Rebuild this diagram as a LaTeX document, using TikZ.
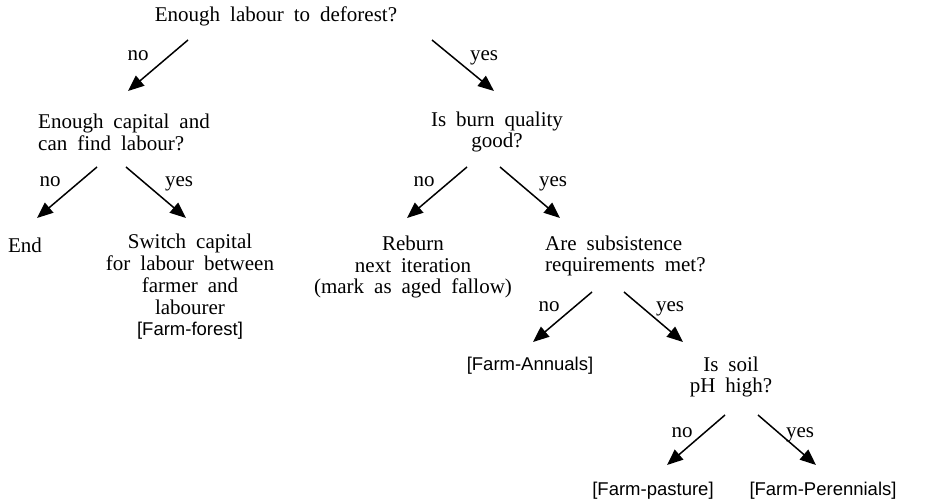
\documentclass[tikz,border=0pt]{standalone}
\usepackage{fontspec}
\setmainfont{Liberation Serif}[WordSpace=1.9]
\setsansfont{Liberation Sans}
\usetikzlibrary{arrows.meta}
\tikzset{
  txt/.style={inner sep=0pt, align=center, font=\fontsize{21}{21.8}\selectfont},
  ltxt/.style={inner sep=0pt, align=left, font=\fontsize{21}{21.8}\selectfont},
  stxt/.style={inner sep=0pt, align=center, font=\sffamily\fontsize{18.5}{21}\selectfont},
  lbl/.style={inner sep=0pt, anchor=base, font=\fontsize{21}{21.8}\selectfont},
  arr/.style={line width=1.5pt, -{Triangle[length=16pt,width=13pt]}}
}
\begin{document}
\begin{tikzpicture}[x=1pt,y=-1pt]
\useasboundingbox (0,0) rectangle (926,502);
% nodes
\node[txt] (top) at (276,16) {Enough labour to deforest?};
\node[ltxt, anchor=west] (cap) at (38,132) {Enough capital and\\can find labour?};
\node[txt] (burn) at (497,132) {Is burn quality\\good?};
\node[txt] (end) at (25,245) {End};
\node[txt] (switch) at (190,287) {Switch capital\\for labour between\\farmer and\\labourer\\{\sffamily\fontsize{18.5}{21}\selectfont [Farm-forest]}};
\node[txt] (reburn) at (413,267) {Reburn\\next iteration\\(mark as aged fallow)};
\node[ltxt, anchor=west] (subs) at (545,256) {Are subsistence\\requirements met?};
\node[stxt] (annuals) at (530,366) {[Farm-Annuals]};
\node[txt] (soil) at (731,377) {Is soil\\pH high?};
\node[stxt] (pasture) at (653,491) {[Farm-pasture]};
\node[stxt] (perennials) at (823,491) {[Farm-Perennials]};
% arrow end points
\coordinate (a1s) at (188,40);  \coordinate (a1e) at (128,91);
\coordinate (a2s) at (432,40);  \coordinate (a2e) at (494,91);
\coordinate (a3s) at (97,167);  \coordinate (a3e) at (37,218);
\coordinate (a4s) at (126,167); \coordinate (a4e) at (186,218);
\coordinate (a5s) at (467,167); \coordinate (a5e) at (407,218);
\coordinate (a6s) at (500,167); \coordinate (a6e) at (560,218);
\coordinate (a7s) at (592,292); \coordinate (a7e) at (533,342);
\coordinate (a8s) at (624,292); \coordinate (a8e) at (683,342);
\coordinate (a9s) at (725,415); \coordinate (a9e) at (667,465);
\coordinate (a10s) at (758,415); \coordinate (a10e) at (816,465);
\draw[arr] (a1s) -- (a1e);
\draw[arr] (a2s) -- (a2e);
\draw[arr] (a3s) -- (a3e);
\draw[arr] (a4s) -- (a4e);
\draw[arr] (a5s) -- (a5e);
\draw[arr] (a6s) -- (a6e);
\draw[arr] (a7s) -- (a7e);
\draw[arr] (a8s) -- (a8e);
\draw[arr] (a9s) -- (a9e);
\draw[arr] (a10s) -- (a10e);
% labels
\node[lbl] (l1) at (138,61) {no};
\node[lbl] (l2) at (484,61) {yes};
\node[lbl] (l3) at (50,187) {no};
\node[lbl] (l4) at (179,187) {yes};
\node[lbl] (l5) at (424,187) {no};
\node[lbl] (l6) at (553,187) {yes};
\node[lbl] (l7) at (549,312) {no};
\node[lbl] (l8) at (670,312) {yes};
\node[lbl] (l9) at (682,437) {no};
\node[lbl] (l10) at (800,437) {yes};
\end{tikzpicture}
\end{document}
